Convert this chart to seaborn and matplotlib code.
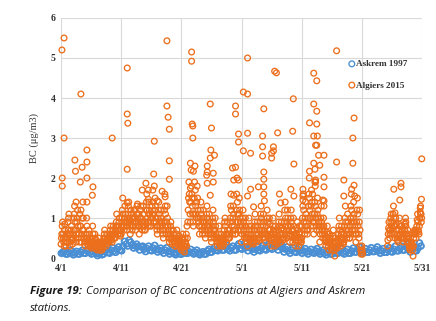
import matplotlib
matplotlib.use('Agg')
import matplotlib.pyplot as plt
import seaborn as sns
import pandas as pd
import numpy as np

# days since 1 April, ticks every 10 days
tick_days = [0, 10, 20, 30, 40, 50, 60]
tick_labels = ['4/1', '4/11', '4/21', '5/1', '5/11', '5/21', '5/31']

# Algiers 2015, 3-hourly readings per day (nan = missing)
nan = np.nan
algiers_daily = [
    [0.35, 0.6, 0.9, 0.5, 0.3, 0.85, 0.4, 0.6],
    [0.4, 0.9, 1.0, 0.6, 0.3, 0.5, 0.8, 0.45],
    [0.5, 1.0, 1.3, 0.7, 0.4, 0.9, 1.2, 0.6],
    [0.6, 1.1, 0.8, 0.4, 1.0, 1.4, 0.7, 0.5],
    [0.3, 0.6, 1.0, 0.5, 0.3, 0.7, 0.5, 0.35],
    [0.3, 0.5, 0.8, 0.4, 0.25, 0.6, 0.45, 0.3],
    [0.2, 0.35, 0.5, 0.3, 0.2, 0.4, 0.3, 0.25],
    [0.3, 0.5, 0.7, 0.4, 0.3, 0.6, 0.5, 0.4],
    [0.4, 0.6, 0.8, 0.5, 0.4, 0.7, 0.6, 0.5],
    [0.5, 0.8, 1.1, 0.7, 0.6, 0.9, 0.7, 0.55],
    [0.6, 1.0, 1.5, 0.8, 0.7, 1.3, 0.9, 0.8],
    [0.7, 1.1, 1.4, 0.9, 0.6, 1.2, 1.0, 0.8],
    [0.8, 1.2, 1.0, 0.7, 0.9, 1.3, 1.1, 0.9],
    [0.6, 1.0, 1.3, 0.9, 0.7, 1.1, 0.8, 0.7],
    [0.7, 1.2, 1.6, 1.0, 0.8, 1.4, 1.1, 0.9],
    [0.8, 1.3, 1.7, 1.1, 0.9, 1.5, 1.0, 0.8],
    [0.6, 1.0, 1.4, 0.9, 0.7, 1.2, 0.9, 0.7],
    [0.5, 0.9, 1.6, 1.1, 0.6, 1.3, 0.8, 0.6],
    [0.4, 0.6, 0.9, 0.5, 0.35, 0.7, 0.5, 0.4],
    [0.3, 0.5, 0.7, 0.4, 0.3, 0.55, 0.4, 0.3],
    [0.2, 0.4, 0.6, 0.3, 0.15, 0.5, 0.35, 0.3],
    [0.5, 1.2, 1.9, 1.4, 0.9, 2.2, 1.6, 1.1],
    [0.8, 1.5, 2.3, 1.3, 1.0, 1.8, 1.2, 0.9],
    [0.6, 1.0, 1.4, 0.8, 0.6, 1.2, 0.9, 0.7],
    [0.5, 0.9, 1.3, 0.8, 0.6, 1.1, 0.7, 0.6],
    [0.4, 0.8, 1.2, 0.7, 0.5, 1.0, 0.6, 0.5],
    [0.3, 0.5, 0.8, 0.4, 0.3, 0.6, 0.45, 0.35],
    [0.4, 0.7, 1.0, 0.6, 0.4, 0.9, 0.6, 0.5],
    [0.5, 1.0, 1.6, 0.9, 0.6, 1.3, 0.8, 0.7],
    [0.6, 1.2, 2.0, 1.1, 0.7, 1.5, 1.0, 0.8],
    [0.4, 0.8, 1.2, 0.7, 0.5, 1.0, 0.6, 0.5],
    [0.3, 0.6, 1.0, 0.5, 0.4, 0.8, 0.5, 0.4],
    [0.4, 0.7, 1.1, 0.6, 0.4, 0.9, 0.6, 0.5],
    [0.5, 0.9, 1.3, 0.7, 0.5, 1.1, 0.7, 0.6],
    [0.4, 0.8, 1.2, 0.6, 0.5, 1.0, 0.7, 0.5],
    [0.3, 0.6, 1.0, 0.5, 0.3, 0.8, 0.5, 0.4],
    [0.4, 0.7, 1.1, 0.6, 0.4, 0.9, 0.6, 0.5],
    [0.5, 0.9, 1.4, 0.8, 0.5, 1.2, 0.8, 0.6],
    [0.4, 0.8, 1.2, 0.7, 0.4, 1.0, 0.6, 0.5],
    [0.3, 0.6, 0.9, 0.5, 0.3, 0.8, 0.5, 0.4],
    [0.5, 1.0, 1.6, 0.9, 0.6, 1.4, 0.9, 0.7],
    [0.7, 1.3, 2.0, 1.2, 0.8, 1.7, 1.1, 0.9],
    [0.6, 1.1, 1.8, 1.0, 0.7, 1.5, 1.0, 0.8],
    [0.4, 0.8, 1.3, 0.7, 0.5, 1.0, 0.7, 0.5],
    [0.3, 0.5, 0.8, 0.4, 0.2, 0.6, 0.4, 0.3],
    [0.2, 0.4, 0.7, 0.35, 0.05, 0.5, 0.3, 0.25],
    [0.3, 0.6, 1.0, 0.5, 0.3, 0.8, 0.5, 0.4],
    [0.4, 0.8, 1.3, 0.7, 0.5, 1.1, 0.7, 0.6],
    [0.5, 1.0, 1.6, 0.9, 0.6, 1.4, 0.9, 0.7],
    [0.4, 0.9, 1.5, 0.8, 0.5, 1.2, 0.3, 0.1],
    [0.3, 0.1, nan, nan, nan, nan, nan, nan],
    [nan, nan, nan, nan, nan, nan, nan, nan],
    [nan, nan, nan, nan, nan, nan, nan, nan],
    [nan, nan, nan, nan, nan, nan, nan, nan],
    [nan, nan, 0.3, 0.6, 0.9, 0.5, 0.7, 1.1],
    [0.6, 0.9, 1.3, 0.8, 0.5, 1.0, 0.7, 0.5],
    [0.4, 0.7, 1.0, 0.6, 0.5, 0.8, 0.6, 0.4],
    [0.5, 0.7, 1.0, 0.6, 0.4, 0.7, 0.5, 0.3],
    [0.2, 0.3, 0.4, 0.3, 0.05, 0.5, 0.7, 0.6],
    [0.5, 0.8, 1.1, 0.7, 0.6, 1.0, 1.3, 0.9],
]

# extra readings at 1.5 h offsets during the busy periods (nan = missing)
algiers_daily_mid = [
    [0.5, 0.8, 0.6, 0.4, 0.7, 0.5, 0.3, 0.5],
    [0.6, 0.7, 1.1, 0.4, 0.6, 0.7, 0.5, 0.35],
    [0.7, 1.1, 0.9, 0.5, 0.6, 1.0, 0.8, 0.5],
    [0.4, 0.8, 1.2, 0.6, 0.7, 1.0, 0.5, 0.4],
    [0.4, 0.5, 0.8, 0.35, 0.45, 0.6, 0.4, 0.3],
    [0.25, 0.4, 0.6, 0.3, 0.35, 0.5, 0.3, 0.25],
    [0.3, 0.25, 0.4, 0.2, 0.3, 0.35, 0.2, 0.3],
    [0.4, 0.6, 0.5, 0.35, 0.45, 0.5, 0.4, 0.45],
    [0.5, 0.7, 0.6, 0.45, 0.55, 0.8, 0.5, 0.6],
    [0.7, 0.9, 0.8, 0.6, 0.8, 1.0, 0.6, 0.7],
    [0.8, 1.2, 1.1, 0.9, 1.0, 1.1, 0.8, 0.9],
    [0.9, 1.3, 1.0, 0.8, 0.9, 1.1, 0.7, 1.0],
    [1.0, 0.9, 1.2, 0.8, 1.1, 1.0, 0.8, 1.1],
    [0.8, 1.2, 1.0, 0.8, 0.9, 1.3, 0.9, 0.8],
    [0.9, 1.4, 1.2, 0.9, 1.1, 1.2, 0.8, 1.0],
    [1.0, 1.1, 1.4, 0.9, 1.2, 1.3, 0.9, 0.7],
    [0.8, 1.2, 1.1, 0.8, 1.0, 0.9, 0.8, 0.6],
    [0.7, 1.2, 1.3, 0.8, 0.9, 1.0, 0.7, 0.5],
    [0.5, 0.8, 0.7, 0.4, 0.5, 0.6, 0.4, 0.3],
    [0.4, 0.6, 0.5, 0.35, 0.4, 0.45, 0.3, 0.25],
    [0.3, 0.5, 0.45, 0.2, 0.3, 0.4, 0.6, 0.8],
    [0.9, 1.5, 1.6, 1.1, 1.4, 1.8, 1.3, 0.9],
    [1.1, 1.9, 1.7, 1.1, 1.4, 1.5, 1.0, 0.8],
    [0.8, 1.2, 1.1, 0.7, 0.9, 1.0, 0.8, 0.6],
    [0.7, 1.1, 1.0, 0.7, 0.8, 0.9, 0.6, 0.5],
    [0.6, 1.0, 0.9, 0.6, 0.7, 0.8, 0.5, 0.4],
    [0.4, 0.6, 0.5, 0.35, 0.45, 0.5, 0.4, 0.3],
    [0.5, 0.9, 0.8, 0.5, 0.6, 0.7, 0.5, 0.6],
    [0.7, 1.3, 1.2, 0.8, 1.0, 1.1, 0.7, 0.6],
    [0.9, 1.6, 1.4, 0.9, 1.1, 1.2, 0.9, 0.7],
    [0.6, 1.0, 0.9, 0.6, 0.8, 0.8, 0.5, 0.4],
    [0.5, 0.8, 0.7, 0.45, 0.6, 0.7, 0.4, 0.35],
    [0.5, 0.9, 0.8, 0.5, 0.7, 0.8, 0.5, 0.45],
    [0.7, 1.1, 1.0, 0.6, 0.8, 0.9, 0.6, 0.5],
    [0.6, 1.0, 0.9, 0.55, 0.7, 0.85, 0.6, 0.45],
    [0.45, 0.8, 0.7, 0.4, 0.6, 0.65, 0.45, 0.35],
    [0.55, 0.9, 0.8, 0.5, 0.7, 0.75, 0.5, 0.45],
    [0.7, 1.2, 1.0, 0.6, 0.9, 1.0, 0.7, 0.55],
    [0.6, 1.0, 0.9, 0.55, 0.7, 0.8, 0.55, 0.45],
    [0.45, 0.75, 0.7, 0.4, 0.6, 0.65, 0.45, 0.4],
    [0.8, 1.3, 1.2, 0.7, 1.0, 1.1, 0.8, 0.6],
    [1.0, 1.6, 1.5, 1.0, 1.3, 1.4, 1.0, 0.8],
    [0.9, 1.4, 1.3, 0.8, 1.1, 1.2, 0.9, 0.7],
    [0.6, 1.0, 0.9, 0.6, 0.8, 0.8, 0.6, 0.45],
    [0.4, 0.65, 0.6, 0.3, 0.4, 0.5, 0.35, 0.25],
    [0.3, 0.55, 0.5, 0.2, 0.3, 0.4, 0.25, 0.3],
    [0.45, 0.8, 0.7, 0.4, 0.6, 0.65, 0.45, 0.35],
    [0.6, 1.0, 0.9, 0.6, 0.8, 0.9, 0.6, 0.5],
    [0.8, 1.3, 1.2, 0.7, 1.0, 1.1, 0.8, 0.6],
    [0.6, 1.2, 1.1, 0.6, 0.9, 0.7, 0.2, 0.15],
    [0.2, nan, nan, nan, nan, nan, nan, nan],
    [nan, nan, nan, nan, nan, nan, nan, nan],
    [nan, nan, nan, nan, nan, nan, nan, nan],
    [nan, nan, nan, nan, nan, nan, nan, nan],
    [nan, nan, 0.45, 0.75, 0.7, 0.6, 0.9, 0.8],
    [0.75, 1.1, 1.0, 0.6, 0.8, 0.85, 0.6, 0.45],
    [0.55, 0.85, 0.8, 0.5, 0.65, 0.7, 0.5, 0.5],
    [0.6, 0.85, 0.8, 0.5, 0.55, 0.6, 0.4, 0.25],
    [0.25, 0.35, 0.35, 0.2, 0.3, 0.6, 0.65, 0.7],
    [0.65, 0.95, 0.9, 0.65, 0.8, 1.15, 1.1, 1.0],
]

# Algiers 2015, peak readings (day since 1 April, BC)
algiers_peak_day = [0.15, 0.5, 0.5, 0.2, 0.2, 3.3, 4.3, 2.3, 4.3, 3.5, 2.4, 3.2, 4.3, 5.3, 5.2, 2.5, 4.3, 8.5,
                    11.0, 11.0, 11.1, 15.5, 17.6, 17.6, 17.8, 18.0, 21.7, 21.7, 21.8, 21.9, 21.9, 24.8, 25.0,
                    24.9, 25.5, 24.8, 29.0, 29.0, 29.5, 29.5, 30.3, 31.0, 31.0, 31.0, 33.5, 33.7, 35.3, 35.5,
                    35.8, 36.0, 38.5, 38.6, 41.3, 42.0, 42.0, 42.0, 42.5, 42.5, 42.5, 42.6, 42.5, 45.8, 48.5,
                    48.7, 59.95,
                    11.0, 15.4, 18.0, 18.0, 14.1, 15.5, 13.5, 14.5, 16.8, 11.0, 12.7, 14.5, 16.0, 17.3,
                    21.5, 22.0, 24.3, 24.3, 24.2, 25.3, 24.3, 25.3, 28.5, 29.0, 28.7, 29.5, 24.8, 21.5, 28.7, 21.8,
                    33.5, 35.3, 30.3, 31.5, 33.5, 35.0, 35.0, 38.7, 33.7, 33.7, 31.5, 32.8, 33.7, 33.7, 33.8,
                    36.3, 38.2, 38.7, 40.2, 40.2, 36.5, 31.0, 32.0,
                    42.3, 42.8, 43.7, 48.5, 42.0, 43.0, 45.8, 41.3, 42.2, 42.3, 43.7, 47.0, 48.7, 42.2, 42.3,
                    43.7, 48.3, 48.8, 47.0, 43.5, 43.7, 40.2, 41.8, 43.7,
                    55.3, 56.5, 56.5, 56.3, 59.9, 55.5, 54.8, 57.3, 59.7, 59.8]
algiers_peak_val = [5.2, 5.5, 3.0, 2.0, 1.8, 4.1, 2.7, 2.45, 2.4, 2.27, 2.17, 1.9, 2.0, 1.78, 1.57, 1.4, 1.4, 3.0,
                    4.75, 3.6, 3.37, 2.92, 5.43, 3.8, 3.52, 3.22, 5.15, 4.92, 3.35, 3.3, 3.0, 3.85, 3.25,
                    2.7, 2.57, 2.5, 3.8, 3.6, 3.1, 2.9, 4.15, 4.1, 5.0, 3.12, 3.05, 3.73, 2.78, 4.67,
                    4.63, 3.13, 3.17, 3.98, 3.38, 4.62, 3.85, 3.05, 4.43, 3.67, 3.35, 3.05, 2.82, 5.18, 3.0,
                    3.5, 2.48,
                    2.22, 2.1, 2.43, 1.97, 1.87, 1.8, 1.7, 1.7, 1.67, 1.38, 1.35, 1.47, 1.43, 1.53,
                    2.37, 2.17, 2.3, 2.15, 2.07, 2.12, 1.87, 1.9, 2.25, 2.27, 1.95, 1.95, 1.57, 1.75, 1.57, 1.5,
                    2.78, 2.68, 2.68, 2.62, 2.55, 2.5, 2.62, 2.35, 2.15, 1.97, 1.72, 1.78, 1.78, 1.6, 1.43,
                    1.6, 1.72, 1.55, 1.55, 1.45, 1.38, 1.55, 1.28,
                    2.82, 2.57, 2.57, 2.37, 2.37, 2.32, 2.4, 2.17, 2.22, 1.9, 2.02, 1.95, 1.82, 1.9, 1.95,
                    1.78, 1.72, 1.55, 1.55, 1.45, 1.43, 1.72, 1.6, 1.3,
                    1.72, 1.87, 1.78, 1.45, 1.47, 1.13, 1.0, 0.9, 1.25, 1.1]

# Askrem 1997, 6-hourly readings per day
askrem_daily = [
    [0.12, 0.15, 0.18, 0.1], [0.1, 0.14, 0.2, 0.12], [0.08, 0.13, 0.17, 0.1], [0.1, 0.15, 0.2, 0.12],
    [0.12, 0.18, 0.22, 0.14], [0.1, 0.16, 0.2, 0.12], [0.06, 0.1, 0.14, 0.08], [0.1, 0.16, 0.2, 0.14],
    [0.12, 0.2, 0.26, 0.18], [0.14, 0.22, 0.28, 0.2], [0.18, 0.3, 0.42, 0.35], [0.3, 0.45, 0.4, 0.32],
    [0.25, 0.3, 0.35, 0.28], [0.2, 0.28, 0.3, 0.22], [0.16, 0.24, 0.3, 0.2], [0.18, 0.25, 0.32, 0.22],
    [0.15, 0.2, 0.25, 0.18], [0.12, 0.2, 0.26, 0.16], [0.1, 0.15, 0.2, 0.12], [0.08, 0.12, 0.18, 0.1],
    [0.1, 0.14, 0.2, 0.12], [0.12, 0.16, 0.22, 0.14], [0.1, 0.15, 0.2, 0.12], [0.08, 0.12, 0.16, 0.1],
    [0.1, 0.18, 0.22, 0.14], [0.15, 0.22, 0.28, 0.2], [0.18, 0.24, 0.3, 0.2], [0.2, 0.28, 0.32, 0.22],
    [0.18, 0.25, 0.3, 0.2], [0.2, 0.3, 0.36, 0.25], [0.22, 0.3, 0.38, 0.26], [0.18, 0.26, 0.32, 0.22],
    [0.15, 0.22, 0.3, 0.2], [0.18, 0.25, 0.32, 0.22], [0.2, 0.3, 0.36, 0.25], [0.22, 0.32, 0.4, 0.28],
    [0.2, 0.3, 0.35, 0.24], [0.15, 0.22, 0.28, 0.18], [0.12, 0.2, 0.26, 0.16], [0.14, 0.22, 0.28, 0.18],
    [0.12, 0.18, 0.24, 0.15], [0.1, 0.16, 0.22, 0.14], [0.12, 0.18, 0.24, 0.15], [0.1, 0.15, 0.2, 0.12],
    [0.08, 0.14, 0.2, 0.1], [0.1, 0.16, 0.22, 0.12], [0.12, 0.18, 0.24, 0.14], [0.1, 0.16, 0.22, 0.12],
    [0.12, 0.18, 0.25, 0.15], [0.15, 0.22, 0.28, 0.18], [0.12, 0.18, 0.24, 0.15], [0.14, 0.2, 0.26, 0.16],
    [0.16, 0.22, 0.28, 0.18], [0.12, 0.18, 0.24, 0.14], [0.14, 0.2, 0.26, 0.16], [0.15, 0.22, 0.3, 0.18],
    [0.18, 0.24, 0.3, 0.2], [0.2, 0.28, 0.34, 0.22], [0.15, 0.22, 0.28, 0.18], [0.18, 0.25, 0.38, 0.3],
]


def to_frame(daily, offset=0.0):
    rows = []
    for d, vals in enumerate(daily):
        n = len(vals)
        for i, v in enumerate(vals):
            rows.append((d + (i + offset) / n, v))
    return pd.DataFrame(rows, columns=['day', 'bc']).dropna()


df_alg = pd.concat([to_frame(algiers_daily), to_frame(algiers_daily_mid, 0.5),
                    pd.DataFrame({'day': algiers_peak_day, 'bc': algiers_peak_val})])
df_alg = df_alg.sort_values('day')
df_ask = pd.concat([to_frame(askrem_daily), to_frame(askrem_daily, 0.5)]).sort_values('day')

blue = '#4A8FD4'
orange = '#EC6F1C'

sns.set_style('white')
fig = plt.figure(figsize=(4.36, 3.21), dpi=100)
ax = fig.add_axes([0.14, 0.196, 0.828, 0.748])

sns.scatterplot(x=df_ask['day'], y=df_ask['bc'], s=17, marker='o', facecolor='none',
                edgecolor=blue, linewidth=0.95, label='Askrem 1997', ax=ax, clip_on=False, zorder=3)
sns.scatterplot(x=df_alg['day'], y=df_alg['bc'], s=17, marker='o', facecolor='none',
                edgecolor=orange, linewidth=0.95, label='Algiers 2015', ax=ax, clip_on=False, zorder=4)

ax.set_xlim(0, 60)
ax.set_ylim(0, 6)
ax.set_xticks(tick_days)
ax.set_xticklabels(tick_labels)
ax.set_yticks(range(0, 7))
ax.grid(True, color='#d9d9d9', linewidth=0.8)
ax.set_axisbelow(True)
for s in ax.spines.values():
    s.set_visible(False)
ax.tick_params(length=0, labelsize=7, pad=4, colors='#333333')
for lab in ax.get_xticklabels() + ax.get_yticklabels():
    lab.set_family('Liberation Serif')
    lab.set_fontweight('bold')
ax.set_xlabel('')
ax.set_ylabel('BC (μg/m3)', fontsize=7.5, family='Liberation Serif', color='#333333', labelpad=8)

leg = ax.legend(loc='upper left', bbox_to_anchor=(0.775, 0.86), frameon=False, handlelength=0.6,
                handletextpad=0.2, labelspacing=1.4, prop={'family': 'Liberation Serif', 'size': 6.6, 'weight': 'bold'})
for t in leg.get_texts():
    t.set_color('#333333')

fig.canvas.draw()
t1 = fig.text(0.069, 0.085, 'Figure 19:', fontsize=8.2, family='Open Sans', style='italic',
              fontweight='bold', color='#1a1a1a')
fig.canvas.draw()
bb = t1.get_window_extent().transformed(fig.transFigure.inverted())
fig.text(bb.x1 + 0.008, 0.085, 'Comparison of BC concentrations at Algiers and Askrem', fontsize=8.2,
         family='Open Sans', style='italic', color='#1a1a1a')
fig.text(0.069, 0.03, 'stations.', fontsize=8.2, family='Open Sans', style='italic', color='#1a1a1a')

fig.savefig('out.png', dpi=100)
